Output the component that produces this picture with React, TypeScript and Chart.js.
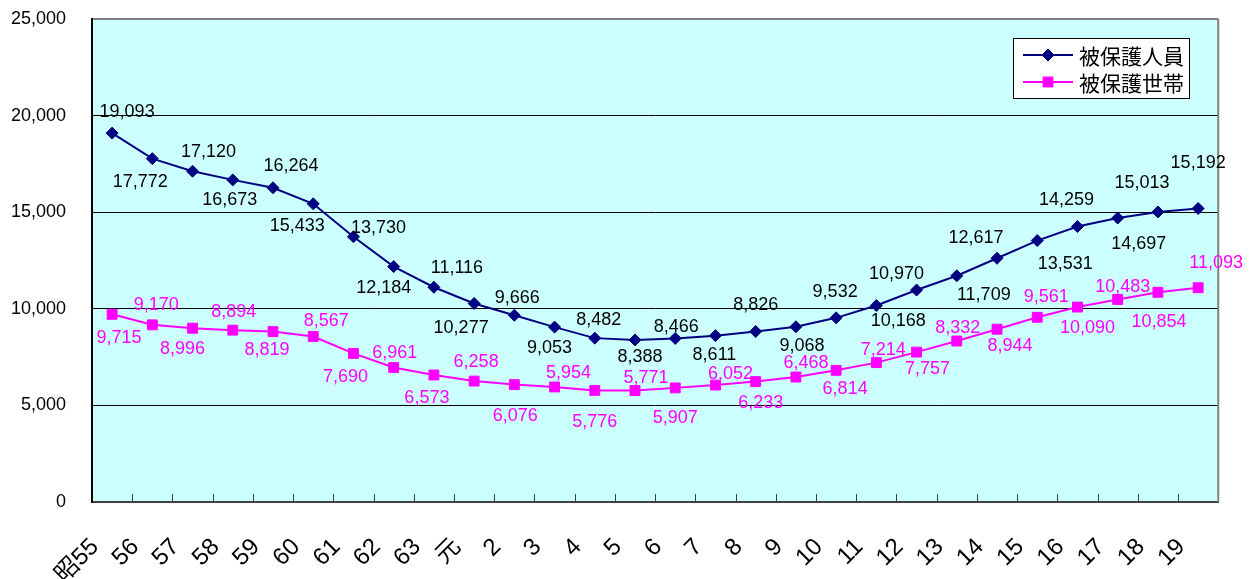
import { useEffect, useRef } from "react";
import { Chart, registerables } from "chart.js";

Chart.register(...registerables);

// Fiscal years (Showa 55 → Heisei 19)
const categories = [
  "昭55", "56", "57", "58", "59", "60", "61", "62", "63", "元",
  "2", "3", "4", "5", "6", "7", "8", "9", "10", "11",
  "12", "13", "14", "15", "16", "17", "18", "19",
];

// 被保護人員
const persons = [
  19093, 17772, 17120, 16673, 16264, 15433, 13730, 12184, 11116, 10277,
  9666, 9053, 8482, 8388, 8466, 8611, 8826, 9068, 9532, 10168,
  10970, 11709, 12617, 13531, 14259, 14697, 15013, 15192,
];

// 被保護世帯
const households = [
  9715, 9170, 8996, 8894, 8819, 8567, 7690, 6961, 6573, 6258,
  6076, 5954, 5776, 5771, 5907, 6052, 6233, 6468, 6814, 7214,
  7757, 8332, 8944, 9561, 10090, 10483, 10854, 11093,
];

const yTicks = [0, 5000, 10000, 15000, 20000, 25000];

// Value-label placement relative to each marker (dx, dy in px)
const personLabelOffsets: [number, number][] = [
  [15, -21], [-12, 23], [16, -19], [-3, 20], [18, -22], [-16, 22], [25, -9],
  [-10, 21], [23, -19], [-13, 25], [3, -17], [-5, 21], [4, -18], [5, 17],
  [1, -11], [-1, 19], [0, -26], [6, 19], [-1, -26], [22, 15], [-20, -16],
  [27, 19], [-21, -20], [28, 23], [-11, -26], [21, 26], [-16, -29], [0, -45],
];
const householdLabelOffsets: [number, number][] = [
  [7, 24], [4, -20], [-10, 21], [1, -18], [-6, 18], [13, -15], [-8, 24],
  [1, -14], [-7, 23], [2, -19], [1, 31], [14, -14], [0, 32], [11, -12],
  [0, 30], [15, -11], [5, 21], [10, -14], [9, 19], [7, -13], [11, 17],
  [1, -13], [13, 17], [9, -20], [10, 21], [5, -12], [1, 30], [18, -25],
];

const NAVY = "#000080";
const MAGENTA = "#FF00FF";
const FONT = '"Liberation Sans", "Noto Sans CJK JP", sans-serif';
const CJK_FONT = '"Noto Sans CJK JP", sans-serif';

const fmt = (v: number) => v.toLocaleString("en-US");

const plotBackground = {
  id: "plotBackground",
  beforeDraw(chart: any) {
    const { ctx, chartArea: a } = chart;
    ctx.save();
    ctx.fillStyle = "#CCFFFF";
    ctx.fillRect(a.left, a.top, a.right - a.left, a.bottom - a.top);
    ctx.restore();
  },
};

const plotFrame = {
  id: "plotFrame",
  beforeDatasetsDraw(chart: any) {
    const { ctx, chartArea: a } = chart;
    ctx.save();
    // right edge
    ctx.strokeStyle = "#808080";
    ctx.lineWidth = 2;
    ctx.beginPath();
    ctx.moveTo(a.right, a.top);
    ctx.lineTo(a.right, a.bottom);
    ctx.stroke();
    // inward tick marks at category boundaries
    ctx.strokeStyle = "#404040";
    ctx.lineWidth = 1;
    const n = categories.length;
    const step = (a.right - a.left) / n;
    for (let i = 1; i < n; i++) {
      const bx = Math.round(a.left + i * step);
      ctx.beginPath();
      ctx.moveTo(bx + 0.5, a.bottom);
      ctx.lineTo(bx + 0.5, a.bottom - 8);
      ctx.stroke();
    }
    ctx.restore();
  },
};

const valueLabels = {
  id: "valueLabels",
  afterDatasetsDraw(chart: any) {
    const { ctx } = chart;
    const sets = [
      { offsets: personLabelOffsets, color: "#000000" },
      { offsets: householdLabelOffsets, color: MAGENTA },
    ];
    ctx.save();
    ctx.font = `18px ${FONT}`;
    ctx.textAlign = "center";
    ctx.textBaseline = "middle";
    sets.forEach((s, di) => {
      const meta = chart.getDatasetMeta(di);
      const data = chart.data.datasets[di].data as number[];
      ctx.fillStyle = s.color;
      meta.data.forEach((pt: any, i: number) => {
        const [dx, dy] = s.offsets[i];
        ctx.fillText(fmt(data[i]), pt.x + dx, pt.y + dy);
      });
    });
    ctx.restore();
  },
};

function drawMarker(ctx: CanvasRenderingContext2D, style: string, x: number, y: number, r: number) {
  ctx.beginPath();
  if (style === "rectRot") {
    ctx.moveTo(x, y - r);
    ctx.lineTo(x + r, y);
    ctx.lineTo(x, y + r);
    ctx.lineTo(x - r, y);
  } else {
    const s = r * Math.SQRT1_2;
    ctx.rect(x - s, y - s, 2 * s, 2 * s);
  }
  ctx.closePath();
  ctx.fill();
  ctx.stroke();
}

const boxLegend = {
  id: "boxLegend",
  afterDraw(chart: any) {
    const { ctx } = chart;
    const left = 1013;
    const top = 38;
    const w = 176;
    const h = 60;
    ctx.save();
    ctx.fillStyle = "#FFFFFF";
    ctx.fillRect(left, top, w, h);
    ctx.strokeStyle = "#000000";
    ctx.lineWidth = 1;
    ctx.strokeRect(left + 0.5, top + 0.5, w, h);
    const rows = [
      { label: chart.data.datasets[0].label, color: NAVY, style: "rectRot", r: 6 },
      { label: chart.data.datasets[1].label, color: MAGENTA, style: "rect", r: 7 },
    ];
    rows.forEach((row, i) => {
      const y = top + 17 + i * 27;
      ctx.strokeStyle = row.color;
      ctx.lineWidth = 2;
      ctx.beginPath();
      ctx.moveTo(left + 10, y);
      ctx.lineTo(left + 60, y);
      ctx.stroke();
      ctx.fillStyle = row.color;
      ctx.lineWidth = 1;
      drawMarker(ctx, row.style, left + 35, y, row.r);
      ctx.fillStyle = "#000000";
      ctx.font = `21px ${CJK_FONT}`;
      ctx.textAlign = "left";
      ctx.textBaseline = "middle";
      ctx.fillText(row.label, left + 66, y + 1);
    });
    ctx.restore();
  },
};

export default function App() {
  const canvasRef = useRef<HTMLCanvasElement | null>(null);

  useEffect(() => {
    const canvas = canvasRef.current;
    if (!canvas) return;
    const chart = new Chart(canvas, {
      type: "line",
      data: {
        labels: categories,
        datasets: [
          {
            label: "被保護人員",
            data: persons,
            borderColor: NAVY,
            backgroundColor: NAVY,
            borderWidth: 2,
            pointStyle: "rectRot",
            pointRadius: 6,
            pointBorderWidth: 1,
            tension: 0,
          },
          {
            label: "被保護世帯",
            data: households,
            borderColor: MAGENTA,
            backgroundColor: MAGENTA,
            borderWidth: 2,
            pointStyle: "rect",
            pointRadius: 7,
            pointBorderWidth: 1,
            tension: 0,
          },
        ],
      },
      options: {
        responsive: false,
        animation: false,
        layout: { padding: { top: 19, right: 28, bottom: 0, left: 0 } },
        plugins: {
          legend: { display: false },
          tooltip: { enabled: false },
        },
        scales: {
          x: {
            type: "category",
            offset: true,
            grid: { drawOnChartArea: false, drawTicks: false },
            border: { display: true, color: "#404040", width: 2 },
            ticks: {
              autoSkip: false,
              minRotation: 45,
              maxRotation: 45,
              padding: 31,
              labelOffset: -17,
              color: "#000000",
              font: { size: 24, family: FONT },
            },
            afterFit(scale: any) {
              scale.height = 77;
              scale.paddingTop = 0;
              scale.paddingBottom = 0;
            },
          },
          y: {
            min: 0,
            max: 25000,
            afterBuildTicks(scale: any) {
              scale.ticks = yTicks.map((v) => ({ value: v }));
            },
            grid: {
              drawTicks: false,
              color: (c: any) => (c.tick && c.tick.value === 25000 ? "#808080" : "#000000"),
              lineWidth: (c: any) => (c.tick && c.tick.value === 25000 ? 2 : 1),
            },
            border: { display: true, color: "#000000", width: 2 },
            ticks: {
              padding: 26,
              color: "#000000",
              font: { size: 18, family: FONT },
              callback: (v: any) => fmt(Number(v)),
            },
            afterFit(scale: any) {
              scale.width = 92;
              scale.paddingTop = 0;
              scale.paddingBottom = 0;
            },
          },
        },
      },
      plugins: [plotBackground, plotFrame, valueLabels, boxLegend],
    });
    return () => chart.destroy();
  }, []);

  return (
    <div style={{ position: "absolute", left: 0, top: 0, width: 1250, height: 579, background: "#FFFFFF" }}>
      <canvas ref={canvasRef} width={1250} height={579} style={{ display: "block" }} />
    </div>
  );
}
